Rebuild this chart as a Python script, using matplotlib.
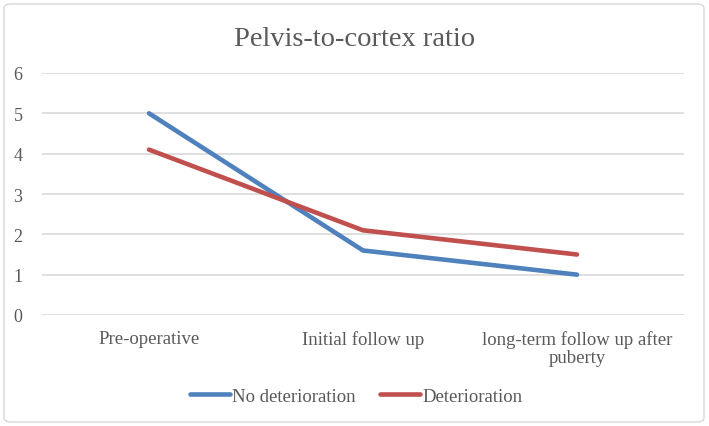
import matplotlib.pyplot as plt
from matplotlib.patches import FancyBboxPatch

categories = ["Pre-operative", "Initial follow up", "long-term follow up after\npuberty"]
no_deterioration = [5.0, 1.6, 1.0]
deterioration = [4.1, 2.1, 1.5]

plt.rcParams['font.family'] = ['Liberation Serif', 'DejaVu Serif']
text_color = '#595959'

fig = plt.figure(figsize=(7.09, 4.27), dpi=100)
ax = fig.add_axes([42 / 709, 1 - 316 / 427, (684 - 42) / 709, (316 - 74) / 427])

x = range(len(categories))
ax.plot(x, no_deterioration, color='#4F81BD', lw=3.3, solid_capstyle='round', label='No deterioration', zorder=3)
ax.plot(x, deterioration, color='#C0504D', lw=3.3, solid_capstyle='round', label='Deterioration', zorder=3)

ax.set_xlim(-0.5, 2.5)
ax.set_ylim(0, 6)
ax.set_yticks(range(0, 7))
ax.set_xticks(list(x))
ax.set_xticklabels(categories, fontsize=13.5, color=text_color, linespacing=1.05)
ax.tick_params(axis='y', labelsize=13, labelcolor=text_color, length=0, pad=14)
ax.tick_params(axis='x', length=0, pad=11)
ax.yaxis.grid(True, color='#D9D9D9', lw=1.2)
ax.set_axisbelow(True)
for s in ax.spines.values():
    s.set_visible(False)

fig.text(355 / 709, 1 - 40 / 427, "Pelvis-to-cortex ratio", ha='center', va='center',
         fontsize=20.5, color=text_color)

fig.legend(loc='center', bbox_to_anchor=(356 / 709, 1 - 397 / 427), ncol=2, frameon=False,
           fontsize=13.5, handlelength=2.15, handletextpad=0.1, columnspacing=1.3,
           labelcolor=text_color)

border = FancyBboxPatch((4 / 709, 4 / 427), 700 / 709, 418 / 427, boxstyle='round,pad=0,rounding_size=0.01',
                        transform=fig.transFigure, facecolor='none', edgecolor='#D9D9D9', lw=1)
fig.patches.append(border)

fig.savefig('out.png', dpi=100)
